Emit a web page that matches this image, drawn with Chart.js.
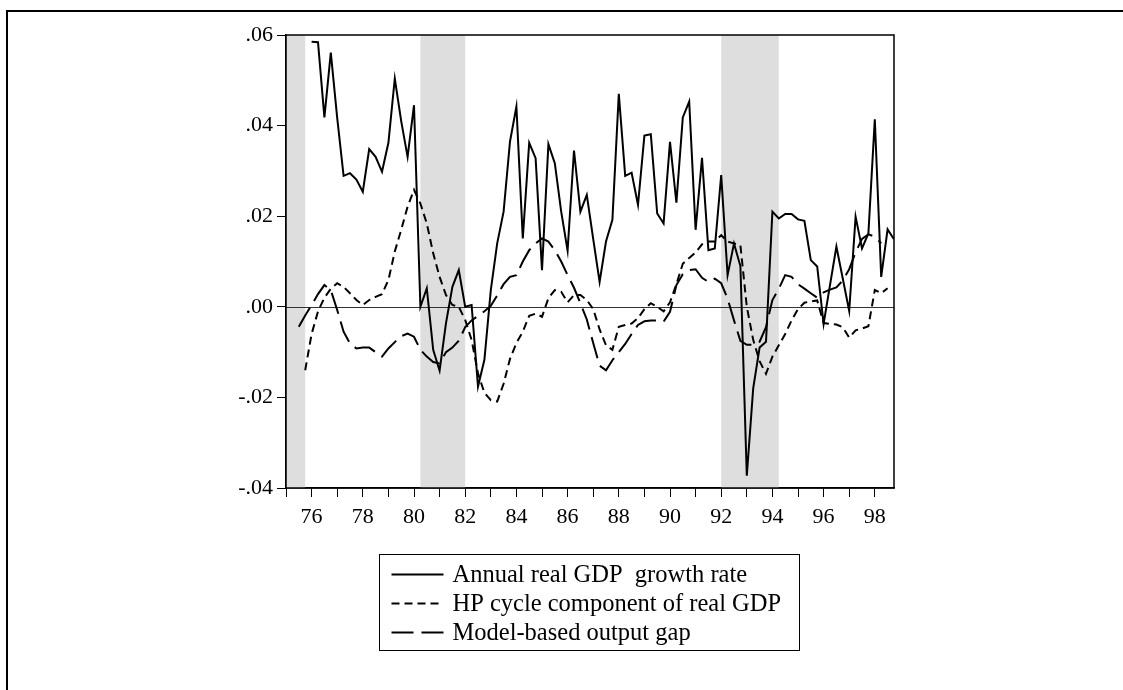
<!DOCTYPE html>
<html>
<head>
<meta charset="utf-8">
<style>
  html, body { margin: 0; padding: 0; background: #fff; overflow: hidden; }
  canvas { display: block; }
</style>
<script src="https://cdn.jsdelivr.net/npm/chart.js@4.4.1/dist/chart.umd.min.js"></script>
</head>
<body>
<canvas id="chart" width="1123" height="690"></canvas>
<script>
// quarterly observations 1975Q1 .. 1998Q4 (x = year + (quarter-1)/4)
const quarters = [];
for (let yr = 1975; yr <= 1998; yr++) {
  for (let q = 0; q < 4; q++) quarters.push(yr + q / 4);
}

// one row per year, Q1..Q4
const gdpGrowth = [
  null, null, null, null,
  0.0585, 0.0584, 0.0418, 0.0561,
  0.0417, 0.0289, 0.0295, 0.0281,
  0.0254, 0.0348, 0.0331, 0.0298,
  0.0362, 0.0504, 0.0410, 0.0331,
  0.0445, 0.0000, 0.0041, -0.0095,
  -0.0141, -0.0036, 0.0044, 0.0081,
  0.0000, 0.0004, -0.0176, -0.0117,
  0.0037, 0.0140, 0.0210, 0.0365,
  0.0442, 0.0151, 0.0362, 0.0328,
  0.0081, 0.0359, 0.0317, 0.0210,
  0.0124, 0.0345, 0.0210, 0.0247,
  0.0150, 0.0055, 0.0144, 0.0192,
  0.0470, 0.0289, 0.0296, 0.0225,
  0.0378, 0.0381, 0.0206, 0.0184,
  0.0364, 0.0230, 0.0418, 0.0453,
  0.0170, 0.0329, 0.0125, 0.0129,
  0.0291, 0.0070, 0.0140, 0.0090,
  -0.0373, -0.0180, -0.0090, -0.0077,
  0.0210, 0.0195, 0.0205, 0.0205,
  0.0193, 0.0190, 0.0103, 0.0089,
  -0.0038, 0.0048, 0.0133, 0.0062,
  -0.0009, 0.0199, 0.0129, 0.0162,
  0.0414, 0.0066, 0.0171, 0.0149
];

const hpCycle = [
  null, null, null, -0.0140,
  -0.0060, -0.0010, 0.0020, 0.0040,
  0.0052, 0.0044, 0.0030, 0.0015,
  0.0004, 0.0015, 0.0022, 0.0028,
  0.0059, 0.0122, 0.0170, 0.0221,
  0.0258, 0.0228, 0.0184, 0.0118,
  0.0066, 0.0026, 0.0004, 0.0000,
  -0.0029, -0.0073, -0.0147, -0.0190,
  -0.0206, -0.0209, -0.0170, -0.0115,
  -0.0080, -0.0055, -0.0020, -0.0015,
  -0.0022, 0.0019, 0.0037, 0.0033,
  0.0010, 0.0026, 0.0026, 0.0015,
  -0.0005, -0.0050, -0.0085, -0.0095,
  -0.0044, -0.0040, -0.0037, -0.0025,
  -0.0005, 0.0008, 0.0000, -0.0010,
  0.0010, 0.0050, 0.0095, 0.0108,
  0.0120, 0.0138, 0.0144, 0.0144,
  0.0158, 0.0144, 0.0140, 0.0136,
  0.0000, -0.0073, -0.0120, -0.0148,
  -0.0110, -0.0085, -0.0060, -0.0030,
  -0.0005, 0.0009, 0.0012, 0.0014,
  -0.0036, -0.0038, -0.0039, -0.0045,
  -0.0068, -0.0052, -0.0048, -0.0043,
  0.0037, 0.0030, 0.0041, null
];

const outputGap = [
  null, null, -0.0044, -0.0019,
  0.0004, 0.0028, 0.0048, 0.0037,
  -0.0007, -0.0055, -0.0081, -0.0092,
  -0.0090, -0.0090, -0.0100, -0.0110,
  -0.0092, -0.0078, -0.0065, -0.0059,
  -0.0066, -0.0095, -0.0110, -0.0122,
  -0.0125, -0.0100, -0.0090, -0.0075,
  -0.0045, -0.0030, -0.0020, -0.0010,
  0.0002, 0.0025, 0.0050, 0.0066,
  0.0070, 0.0100, 0.0125, 0.0140,
  0.0151, 0.0144, 0.0125, 0.0100,
  0.0070, 0.0042, 0.0008, -0.0028,
  -0.0080, -0.0130, -0.0140, -0.0118,
  -0.0100, -0.0082, -0.0060, -0.0040,
  -0.0032, -0.0030, -0.0030, -0.0033,
  -0.0011, 0.0048, 0.0072, 0.0081,
  0.0083, 0.0064, 0.0055, 0.0062,
  0.0052, 0.0018, -0.0030, -0.0075,
  -0.0084, -0.0084, -0.0077, -0.0045,
  0.0015, 0.0040, 0.0070, 0.0066,
  0.0050, 0.0040, 0.0030, 0.0020,
  0.0032, 0.0038, 0.0043, 0.0058,
  0.0083, 0.0120, 0.0150, 0.0160,
  0.0155, 0.0140, null, null
];

// shaded periods (start, end) in years
const recessions = [[1975.0, 1975.75], [1980.25, 1982.0], [1992.0, 1994.25]];
const yTicks = [-0.04, -0.02, 0.00, 0.02, 0.04, 0.06];

const FONT = '"Liberation Serif", "Times New Roman", serif';

const toPoints = (arr) => arr.map((v, i) => ({ x: quarters[i], y: v }));

const backdrop = {
  id: 'backdrop',
  beforeDatasetsDraw(chart) {
    const { ctx, chartArea: a, scales: { x, y } } = chart;
    ctx.save();
    ctx.fillStyle = '#dedede';
    recessions.forEach(([s, e]) => {
      const x0 = x.getPixelForValue(s), x1 = x.getPixelForValue(e);
      ctx.fillRect(x0, a.top, x1 - x0, a.bottom - a.top);
    });
    // zero line
    const y0 = Math.round(y.getPixelForValue(0)) + 0.5;
    ctx.strokeStyle = '#333';
    ctx.lineWidth = 1;
    ctx.beginPath();
    ctx.moveTo(a.left, y0);
    ctx.lineTo(a.right, y0);
    ctx.stroke();
    ctx.restore();
  },
  afterDraw(chart) {
    const { ctx, chartArea: a } = chart;
    ctx.save();
    // plot frame
    ctx.strokeStyle = '#000';
    ctx.lineWidth = 1.5;
    ctx.strokeRect(a.left, a.top, a.right - a.left, a.bottom - a.top);
    // outer page frame
    ctx.lineWidth = 2;
    ctx.beginPath();
    ctx.moveTo(7, 690);
    ctx.lineTo(7, 11);
    ctx.lineTo(1123, 11);
    ctx.stroke();

    // legend box under the plot
    const bx = a.left + 93.5, by = a.bottom + 66.5, bw = 420, bh = 96;
    ctx.lineWidth = 1;
    ctx.strokeRect(bx, by, bw, bh);
    ctx.font = '24.5px ' + FONT;
    ctx.textBaseline = 'middle';
    ctx.fillStyle = '#000';
    chart.data.datasets.forEach((ds, i) => {
      const ly = by + 20 + i * 29;
      ctx.setLineDash(ds.borderDash || []);
      ctx.lineWidth = ds.borderWidth;
      ctx.beginPath();
      ctx.moveTo(bx + 12, ly);
      ctx.lineTo(bx + 64, ly);
      ctx.stroke();
      ctx.setLineDash([]);
      ctx.fillText(ds.label, bx + 73, ly + 1);
    });
    ctx.restore();
  }
};

new Chart(document.getElementById('chart').getContext('2d'), {
  type: 'line',
  data: {
    datasets: [
      {
        label: 'Annual real GDP  growth rate',
        data: toPoints(gdpGrowth),
        borderColor: '#000',
        borderWidth: 2
      },
      {
        label: 'HP cycle component of real GDP',
        data: toPoints(hpCycle),
        borderColor: '#000',
        borderWidth: 2,
        borderDash: [8, 5]
      },
      {
        label: 'Model-based output gap',
        data: toPoints(outputGap),
        borderColor: '#000',
        borderWidth: 2,
        borderDash: [22, 8]
      }
    ]
  },
  options: {
    responsive: false,
    animation: false,
    devicePixelRatio: 1,
    layout: { padding: { left: 0, top: 35, right: 229, bottom: 162 } },
    elements: { point: { radius: 0 }, line: { tension: 0, borderJoinStyle: 'miter' } },
    plugins: { legend: { display: false }, tooltip: { enabled: false } },
    scales: {
      x: {
        type: 'linear',
        min: 1975,
        max: 1998.75,
        afterFit: (s) => { s.height = 40; },
        ticks: {
          stepSize: 1,
          includeBounds: false,
          autoSkip: false,
          maxRotation: 0,
          padding: 7,
          color: '#000',
          font: { family: FONT, size: 22 },
          callback: (v) => (v % 2 === 0 && v > 1975) ? String(v).slice(2) : ''
        },
        grid: { drawOnChartArea: false, drawTicks: true, tickLength: 9, color: '#000', lineWidth: 1 },
        border: { color: '#000', width: 1.5 }
      },
      y: {
        min: yTicks[0],
        max: yTicks[yTicks.length - 1],
        afterFit: (s) => { s.width = 286; },
        afterBuildTicks: (s) => { s.ticks = yTicks.map((v) => ({ value: v })); },
        ticks: {
          padding: 4,
          color: '#000',
          font: { family: FONT, size: 22 },
          callback: (v) => v.toFixed(2).replace('0.', '.')
        },
        grid: { drawOnChartArea: false, drawTicks: true, tickLength: 9, color: '#000', lineWidth: 1 },
        border: { color: '#000', width: 1.5 }
      }
    }
  },
  plugins: [backdrop]
});
</script>
</body>
</html>
